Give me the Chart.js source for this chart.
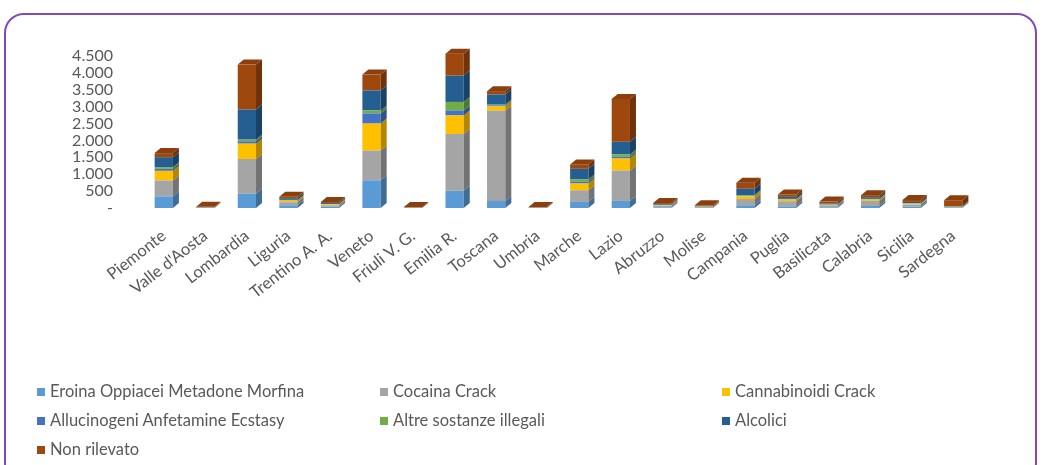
<!DOCTYPE html>
<html>
<head>
<meta charset="utf-8">
<script src="https://cdn.jsdelivr.net/npm/chart.js@4"></script>
<style>
  html, body { margin: 0; padding: 0; background: #fff; }
  body { width: 1047px; height: 465px; position: relative; overflow: hidden; font-family: Lato, sans-serif; }
  #frame {
    position: absolute; left: 4px; top: 13px; width: 1033px; height: 470px;
    border: 2px solid #8548b8; border-radius: 20px; box-sizing: border-box;
  }
  #wrap { position: absolute; left: 0; top: 0; width: 1047px; height: 360px; }
  #legend { position: absolute; left: 0; top: 0; width: 1047px; height: 465px; pointer-events: none; }
  .item { position: absolute; font-size: 16.5px; color: #595959; white-space: nowrap; line-height: 20px; }
  .item i { display: inline-block; width: 8px; height: 8px; margin-right: 5px; vertical-align: 1px; }
</style>
</head>
<body>
<div id="frame"></div>
<div id="wrap"><canvas id="chart" width="1047" height="360"></canvas></div>
<div id="legend"></div>
<script>
const regions = ["Piemonte", "Valle d'Aosta", "Lombardia", "Liguria", "Trentino A. A.", "Veneto",
  "Friuli V. G.", "Emilia R.", "Toscana", "Umbria", "Marche", "Lazio", "Abruzzo", "Molise",
  "Campania", "Puglia", "Basilicata", "Calabria", "Sicilia", "Sardegna"];

const seriesNames = ["Eroina Oppiacei Metadone Morfina", "Cocaina Crack", "Cannabinoidi Crack",
  "Allucinogeni Anfetamine Ecstasy", "Altre sostanze illegali", "Alcolici", "Non rilevato"];

const seriesColors = ["#5b9bd5", "#a5a5a5", "#ffc000", "#4472c4", "#70ad47", "#255e91", "#9e480e"];

const eroina       = [345, 5, 420, 80, 40, 820, 3, 510, 210, 3, 180, 210, 20, 10, 80, 50, 20, 60, 40, 10];
const cocaina      = [470, 5, 1030, 90, 40, 880, 3, 1680, 2670, 3, 345, 900, 50, 20, 185, 150, 60, 150, 60, 20];
const cannabinoidi = [285, 2, 455, 50, 30, 800, 2, 550, 130, 2, 200, 355, 15, 10, 80, 50, 15, 40, 30, 10];
const allucinogeni = [60, 0, 70, 10, 5, 300, 0, 150, 30, 0, 50, 50, 5, 0, 20, 10, 5, 10, 5, 0];
const altre        = [50, 0, 50, 10, 5, 90, 0, 250, 20, 0, 70, 70, 5, 0, 20, 10, 5, 10, 5, 0];
const alcolici     = [295, 5, 890, 50, 30, 590, 5, 780, 300, 5, 315, 375, 25, 15, 185, 60, 30, 50, 40, 20];
const nonRilevato  = [120, 20, 1330, 40, 30, 470, 15, 650, 100, 15, 130, 1270, 30, 25, 180, 70, 55, 60, 60, 170];

const seriesValues = [eroina, cocaina, cannabinoidi, allucinogeni, altre, alcolici, nonRilevato];

const yTicks = [0, 500, 1000, 1500, 2000, 2500, 3000, 3500, 4000, 4500];

function shade(hex, amt) {
  const n = parseInt(hex.slice(1), 16);
  const f = c => Math.max(0, Math.min(255, Math.round(c * (1 + amt))));
  return "rgb(" + f(n >> 16) + "," + f((n >> 8) & 255) + "," + f(n & 255) + ")";
}

function itNumber(v) {
  if (v === 0) return "-";
  return String(v).replace(/\B(?=(\d{3})+(?!\d))/g, ".");
}

// fake Excel 3D columns: side face for each segment, top face on the last one
const depthPlugin = {
  id: "depth3d",
  afterDatasetsDraw(chart) {
    const { ctx } = chart;
    const dx = 6, dy = 5;
    const tops = [];
    ctx.save();
    chart.data.datasets.forEach((ds, di) => {
      const meta = chart.getDatasetMeta(di);
      meta.data.forEach((bar, i) => {
        if (!ds.data[i]) return;
        const p = bar.getProps(["x", "y", "base", "width"], true);
        const right = p.x + p.width / 2;
        ctx.fillStyle = shade(ds.backgroundColor, -0.3);
        ctx.beginPath();
        ctx.moveTo(right, p.y);
        ctx.lineTo(right + dx, p.y - dy);
        ctx.lineTo(right + dx, p.base - dy);
        ctx.lineTo(right, p.base);
        ctx.closePath();
        ctx.fill();
        tops[i] = { p, color: ds.backgroundColor };
      });
    });
    tops.forEach(t => {
      if (!t) return;
      const { p, color } = t;
      const left = p.x - p.width / 2, right = p.x + p.width / 2;
      ctx.fillStyle = shade(color, -0.12);
      ctx.beginPath();
      ctx.moveTo(left, p.y);
      ctx.lineTo(left + dx, p.y - dy);
      ctx.lineTo(right + dx, p.y - dy);
      ctx.lineTo(right, p.y);
      ctx.closePath();
      ctx.fill();
    });
    ctx.restore();
  }
};

const chart = new Chart(document.getElementById("chart"), {
  type: "bar",
  data: {
    labels: regions,
    datasets: seriesNames.map((name, k) => ({
      label: name,
      data: seriesValues[k],
      backgroundColor: seriesColors[k],
      borderWidth: 0,
      categoryPercentage: 1,
      barPercentage: 0.44,
      clip: false
    }))
  },
  options: {
    responsive: false,
    maintainAspectRatio: false,
    animation: false,
    layout: { padding: { left: 60, right: 73, top: 56, bottom: 0 } },
    plugins: {
      legend: { display: false },
      tooltip: { enabled: false }
    },
    scales: {
      x: {
        stacked: true,
        grid: { display: false, drawTicks: false },
        border: { display: false },
        ticks: {
          color: "#595959",
          font: { family: "Lato", size: 16.5 },
          minRotation: 38,
          maxRotation: 38,
          autoSkip: false,
          padding: 18
        },
        afterFit(s) { s.height = 152; }
      },
      y: {
        stacked: true,
        min: 0,
        max: 4500,
        grid: { display: false, drawTicks: false },
        border: { display: false },
        afterBuildTicks(s) { s.ticks = yTicks.map(v => ({ value: v })); },
        ticks: {
          color: "#595959",
          font: { family: "Lato", size: 16 },
          autoSkip: false,
          padding: 30,
          callback: v => itNumber(v)
        },
        afterFit(s) { s.width = 83; }
      }
    }
  },
  plugins: [depthPlugin]
});

// legend in three columns, like the Excel one
const legendPos = [[37, 381], [380, 381], [722, 381], [37, 410], [380, 410], [722, 410], [37, 439]];
const legendBox = document.getElementById("legend");
chart.data.datasets.forEach((ds, k) => {
  const el = document.createElement("div");
  el.className = "item";
  el.style.left = legendPos[k][0] + "px";
  el.style.top = legendPos[k][1] + "px";
  el.innerHTML = '<i style="background:' + ds.backgroundColor + '"></i>' + ds.label;
  legendBox.appendChild(el);
});
</script>
</body>
</html>
